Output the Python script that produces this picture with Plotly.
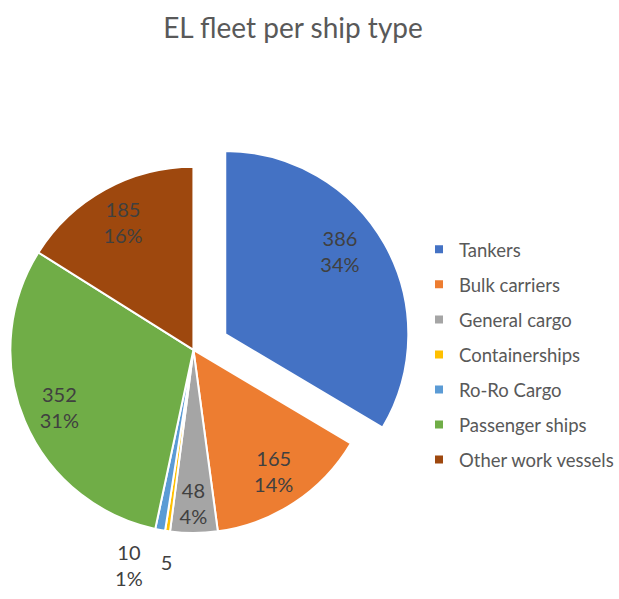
import plotly.graph_objects as go

categories = ["Tankers", "Bulk carriers", "General cargo", "Containerships",
              "Ro-Ro Cargo", "Passenger ships", "Other work vessels"]
values = [386, 165, 48, 5, 10, 352, 185]
colors = ["#4472C4", "#ED7D31", "#A5A5A5", "#FFC000", "#5B9BD5", "#70AD47", "#9E480E"]
exploded = "Tankers"

total = sum(values)
labels_txt = {}
for c, v in zip(categories, values):
    p = round(100 * v / total)
    labels_txt[c] = f"{v}<br>{p}%" if p > 0 else f"{v}"

FONT = "Lato, 'Open Sans', sans-serif"
TXT = dict(family=FONT, size=20, color="#404040")
W, H = 619, 599
CLEAR = "rgba(0,0,0,0)"
N = len(categories)


def dom(cx, cy, r):
    return dict(x=[(cx - r) / W, (cx + r) / W],
                y=[(H - cy - r) / H, (H - cy + r) / H])


R = 187
MAIN = dom(193.5, 354, R)
EXPL = dom(226, 338, R)


def pie(domain, fill, line, text, pos="inside", hole=0.0):
    return go.Pie(
        labels=categories, values=values, sort=False, direction="clockwise", rotation=0,
        marker=dict(colors=fill, line=dict(color=line if line else CLEAR, width=2 if line else 0)),
        text=text, textinfo="text", textposition=pos, hole=hole,
        insidetextorientation="horizontal", textfont=TXT,
        domain=domain, showlegend=False, hoverinfo="skip",
    )


def only(cats):
    return [(labels_txt[c] if c in cats else "") for c in categories]


def pos_for(cats_out):
    return [("outside" if c in cats_out else "inside") for c in categories]


fig = go.Figure()
# main pie (exploded slice left blank)
fig.add_trace(pie(MAIN,
                  [col if c != exploded else CLEAR for c, col in zip(categories, colors)],
                  [("white" if c != exploded else CLEAR) for c in categories],
                  only(["General cargo"])))
# exploded slice
fig.add_trace(pie(EXPL,
                  [col if c == exploded else CLEAR for c, col in zip(categories, colors)],
                  [("white" if c == exploded else CLEAR) for c in categories],
                  [""] * N))
# transparent text layers used to place the data labels like the reference
fig.add_trace(pie(dom(218, 325, R), [CLEAR] * N, None, only([exploded]), hole=0.54))
fig.add_trace(pie(MAIN, [CLEAR] * N, None,
                  only(["Bulk carriers", "Passenger ships", "Other work vessels"]), hole=0.59))
fig.add_trace(pie(dom(188.5, 365, R), [CLEAR] * N, None, only(["Ro-Ro Cargo"]),
                  pos=pos_for(["Ro-Ro Cargo"])))
fig.add_trace(pie(dom(204.5, 373, R), [CLEAR] * N, None, only(["Containerships"]),
                  pos=pos_for(["Containerships"])))

for c, col in zip(categories, colors):
    fig.add_trace(go.Scatter(
        x=[None], y=[None], mode="markers", name=c, legendgroup=c,
        marker=dict(symbol="square", size=8, color=col),
    ))

fig.update_layout(
    width=W, height=H,
    margin=dict(l=0, r=0, t=0, b=0),
    paper_bgcolor="white", plot_bgcolor="white",
    uniformtext=dict(minsize=20, mode="show"),
    title=dict(text="EL fleet per ship type", x=293 / W, xanchor="center",
               y=1 - 28 / H, yanchor="middle",
               font=dict(family=FONT, size=28, color="#595959")),
    xaxis=dict(visible=False), yaxis=dict(visible=False),
    legend=dict(x=424 / W, xanchor="left", y=1 - 233.5 / H, yanchor="top",
                font=dict(family=FONT, size=18.5, color="#595959"),
                tracegroupgap=8, bgcolor="rgba(0,0,0,0)"),
)

fig.write_html("out.html", config={"displayModeBar": False},
               post_script="document.body.style.margin='0px';")
